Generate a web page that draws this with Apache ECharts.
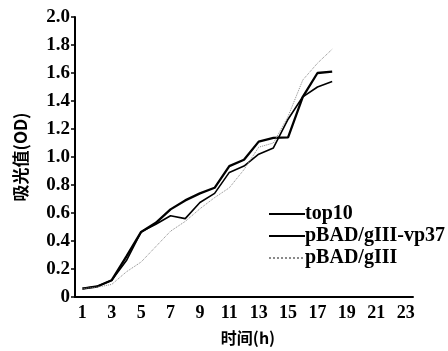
<!DOCTYPE html>
<html><head><meta charset="utf-8">
<script src="https://cdn.jsdelivr.net/npm/echarts@6/dist/echarts.min.js"></script>
<style>html,body{margin:0;padding:0;background:#fff}#c{width:448px;height:351px}</style>
</head><body><div id="c"></div>
<script>
const hours = ['1','2','3','4','5','6','7','8','9','10','11','12','13','14','15','16','17','18','19','20','21','22','23'];
const top10 = [0.06,0.075,0.12,0.26,0.465,0.52,0.58,0.56,0.675,0.74,0.89,0.935,1.02,1.065,1.27,1.43,1.50,1.54];
const vp37 = [0.06,0.075,0.12,0.29,0.465,0.53,0.626,0.69,0.74,0.78,0.935,0.98,1.11,1.137,1.14,1.43,1.60,1.61];
const gIII = [0.06,0.07,0.09,0.18,0.25,0.36,0.47,0.54,0.63,0.71,0.78,0.91,1.07,1.10,1.29,1.55,1.67,1.77];
const yTicks = [0,0.2,0.4,0.6,0.8,1.0,1.2,1.4,1.6,1.8,2.0];
const names = ['top10','pBAD/gIII-vp37','pBAD/gIII'];

const serif = "'Liberation Serif', 'DejaVu Serif', serif";
const cjk = "'Noto Sans CJK SC', sans-serif";
const chart = echarts.init(document.getElementById('c'));
chart.setOption({
  animation:false,
  backgroundColor:'#fff',
  grid:{left:75,right:35,top:17,bottom:53,containLabel:false},
  legend:{
    orient:'vertical', left:263, top:199, itemWidth:36, itemHeight:10, itemGap:2,
    itemStyle:{opacity:0},
    textStyle:{fontFamily:serif,fontWeight:'bold',fontSize:20,color:'#000',padding:[0,0,0,-5]},
    data:names
  },
  xAxis:{
    type:'category', data:hours, boundaryGap:true,
    name:'时间(h)', nameLocation:'middle', nameGap:33,
    nameTextStyle:{fontFamily:cjk,fontWeight:'bold',fontSize:16,color:'#000',padding:[0,0,0,8]},
    axisLine:{lineStyle:{color:'#000',width:2}},
    axisTick:{inside:true,length:5,interval:0,lineStyle:{color:'#000',width:1.5}},
    axisLabel:{interval:1,margin:7,fontFamily:serif,fontWeight:'bold',fontSize:18,color:'#000'}
  },
  yAxis:{
    type:'value', min:0, max:2, interval:0.2,
    name:'吸光值(OD)', nameLocation:'middle', nameGap:46, nameRotate:90,
    nameTextStyle:{fontFamily:cjk,fontWeight:'bold',fontSize:17,color:'#000'},
    splitLine:{show:false},
    axisLine:{show:true,lineStyle:{color:'#000',width:2}},
    axisTick:{show:true,length:4,lineStyle:{color:'#000',width:1.5}},
    axisLabel:{margin:5,fontFamily:serif,fontWeight:'bold',fontSize:19,color:'#000',
      formatter:v=>v===0?'0':v.toFixed(1)}
  },
  series:[
    {name:names[0],type:'line',data:top10,symbol:'none',itemStyle:{color:'#000'},lineStyle:{color:'#000',width:1.6}},
    {name:names[1],type:'line',data:vp37,symbol:'none',itemStyle:{color:'#000'},lineStyle:{color:'#000',width:2.3}},
    {name:names[2],type:'line',data:gIII,symbol:'none',itemStyle:{color:'#8a8a8a'},lineStyle:{color:'#8a8a8a',width:1,type:'dotted'}}
  ]
});
</script></body></html>
